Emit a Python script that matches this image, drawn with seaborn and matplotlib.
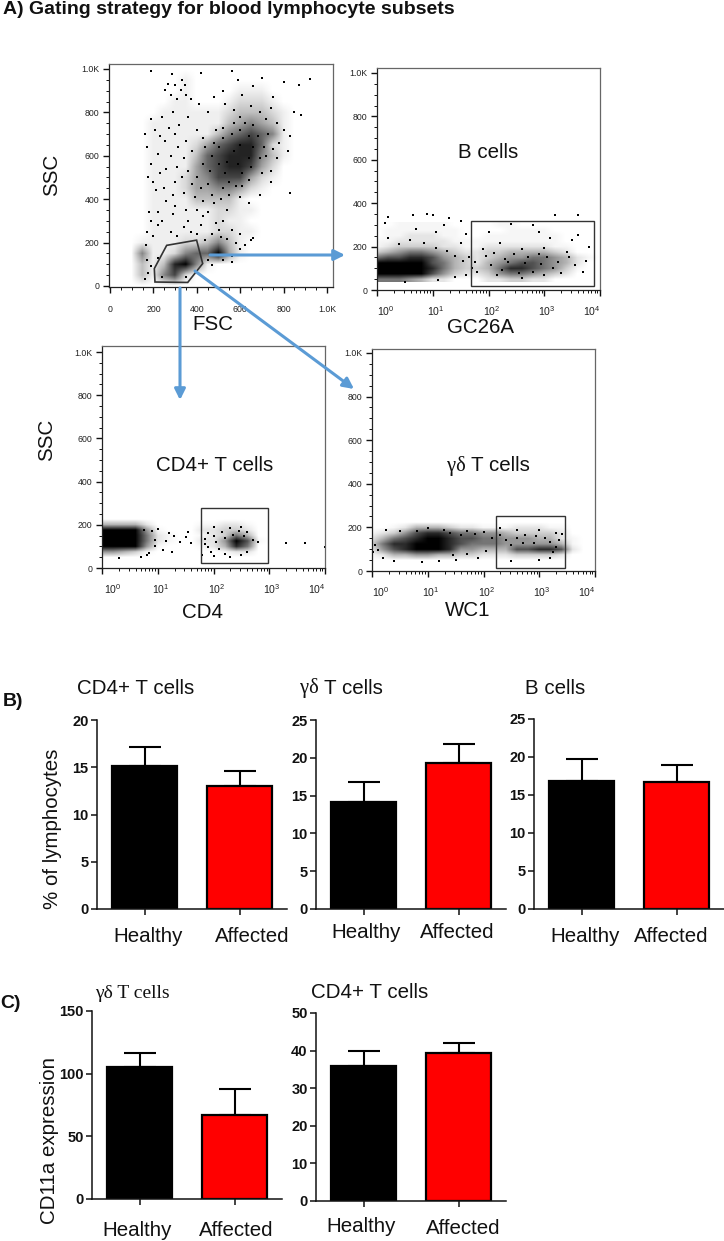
# gating figure: four flow cytometry dot plots and five bar charts
# the dot clouds are hand-read from the picture: a coarse density grid per plot (0-9)
# plus a list of individual dots that could be made out

import matplotlib
matplotlib.use("Agg")
import matplotlib.pyplot as plt
import numpy as np
import pandas as pd
import seaborn as sns

W, H = 724, 1241

# FSC / SSC plot, columns FSC 100..900 step 50, rows SSC 1000..0 step 50
fsc_density = [
    "00000000000000000",
    "00000100000000000",
    "00000100001110000",
    "00001100012221000",
    "00011111123332100",
    "00111111134543100",
    "00111111356765100",
    "00111124678862100",
    "00111136788853100",
    "00111146788742000",
    "00111245777421000",
    "00111244554210000",
    "00111133331000000",
    "00111111221100000",
    "00111111211000000",
    "00111111221100000",
    "01111223531000000",
    "05112566941000000",
    "03138951000000000",
    "03157200000000000",
    "00000000000000000",
]
fsc_dots = [
    (190, 990), (285, 975), (265, 930), (330, 950), (345, 925), (255, 905), (420, 980), (560, 990),
    (590, 950), (700, 960), (800, 940), (870, 925), (920, 955), (660, 920), (520, 900), (610, 880),
    (750, 870), (850, 800), (880, 790), (800, 720), (830, 690), (780, 660), (820, 620), (770, 590),
    (740, 530), (830, 430), (740, 480), (690, 420), (640, 380), (700, 520), (350, 880), (310, 860),
    (290, 800), (240, 780), (190, 770), (205, 720), (160, 700), (255, 670), (170, 640), (315, 640),
    (280, 600), (190, 560), (230, 520), (175, 500), (300, 480), (210, 440), (340, 430), (260, 390),
    (180, 340), (290, 330), (360, 300), (430, 320), (520, 300), (560, 260), (600, 240), (650, 210),
    (660, 220), (540, 350), (480, 380), (420, 280), (220, 280), (170, 250), (310, 230), (375, 250),
    (165, 190), (170, 120), (175, 60), (160, 30), (220, 130), (190, 90), (240, 40), (350, 40),
    (450, 120), (470, 95), (560, 140), (600, 170), (540, 215), (470, 240), (500, 260), (440, 210),
    (500, 640), (560, 700), (620, 750), (640, 590), (530, 520), (470, 600), (610, 520), (570, 620),
    (540, 570), (600, 650), (430, 560), (400, 500), (680, 690), (710, 640), (450, 470), (520, 450),
    (580, 460), (640, 490), (500, 560), (590, 560), (660, 640), (420, 450), (380, 470), (730, 700),
    (300, 925), (325, 905), (280, 880), (375, 860), (410, 840), (450, 800), (480, 870), (530, 840),
    (570, 810), (600, 780), (650, 830), (690, 800), (720, 770), (740, 820), (770, 750), (360, 780),
    (320, 740), (270, 730), (230, 690), (300, 700), (350, 670), (400, 720), (430, 680), (380, 620),
    (340, 590), (310, 550), (260, 540), (220, 610), (200, 480), (250, 450), (290, 420), (330, 500),
    (360, 530), (390, 410), (430, 390), (470, 420), (510, 400), (550, 420), (600, 410), (300, 370),
    (350, 350), (400, 350), (450, 340), (490, 290), (220, 340), (240, 300), (190, 300), (200, 230),
    (280, 250), (340, 270), (400, 240), (510, 225), (580, 200), (620, 190), (560, 110), (520, 120),
    (480, 660), (520, 680), (440, 640), (460, 530), (550, 480), (610, 460), (650, 550), (690, 590),
    (720, 600), (600, 720), (660, 740), (640, 690), (570, 750), (520, 730), (490, 720), (750, 630),
]
fsc_gate = [(204, 80), (261, 187), (399, 211), (427, 103), (358, 16), (207, 18)]

# the three gated plots, columns log10 0..4 step 0.2, rows SSC 300..50 step 25
gc26a_density = [
    "001111100001100000000",
    "011111110000111100000",
    "011222110011111110000",
    "112222211111111110000",
    "123333221122222211000",
    "345665432233444432000",
    "677887543234556654210",
    "999997643245677654200",
    "999998643346887653100",
    "999997532235665432000",
    "666542200022332200000",
]
gc26a_dots = [
    (0.2, 335), (0.15, 310), (0.65, 345), (0.9, 350), (1.0, 345), (1.3, 330), (1.5, 320), (1.2, 300),
    (0.7, 280), (1.05, 265), (1.6, 260), (0.2, 240), (1.5, 215), (2.4, 305), (2.8, 300), (3.2, 345),
    (3.6, 345), (2.0, 265), (2.9, 265), (3.6, 255), (3.1, 240), (3.5, 230), (3.8, 200), (3.4, 175),
    (1.75, 130), (1.9, 190), (2.2, 215), (2.6, 190), (3.0, 195), (1.8, 85), (2.15, 70), (2.6, 55),
    (3.0, 70), (3.3, 80), (3.7, 85), (1.6, 70), (1.4, 60), (0.5, 35), (1.1, 45),
    (0.4, 210), (0.6, 230), (0.85, 215), (1.05, 195), (1.25, 180), (1.4, 155), (1.55, 135), (1.65, 150),
    (1.7, 100), (1.95, 155), (2.1, 170), (2.3, 145), (2.45, 165), (2.7, 150), (2.9, 165), (3.05, 150),
    (3.25, 130), (3.45, 150), (3.55, 115), (3.75, 135), (2.05, 115), (2.25, 90), (2.55, 80), (2.8, 85),
    (3.15, 100), (2.35, 130), (2.65, 125), (2.95, 120),
]
gc26a_gate = (1.69, 20, 3.885, 317)

cd4_density = [
    "000000000000000000000",
    "000000000000000000000",
    "000000000000000000000",
    "000000000000000000000",
    "444420000112210000000",
    "999951000223320000000",
    "999962100123640000000",
    "999962100225971000000",
    "999951000124860000000",
    "554310000001220000000",
    "000000000000000000000",
]
cd4_dots = [
    (1.0, 180), (1.2, 160), (1.3, 150), (1.5, 145), (1.55, 165), (1.15, 125), (1.4, 120), (1.6, 115),
    (1.1, 85), (1.25, 75), (1.8, 60), (1.85, 110), (1.85, 135), (1.9, 160), (2.0, 150), (1.95, 75),
    (2.0, 190), (2.3, 185), (2.5, 190), (2.6, 165), (2.7, 130), (2.8, 120), (2.0, 55), (2.3, 50),
    (3.3, 115), (3.65, 115), (4.0, 95), (0.9, 170), (0.85, 70), (0.8, 60),
    (1.9, 95), (2.05, 120), (2.1, 90), (2.15, 165), (2.2, 140), (2.35, 155), (2.45, 170), (2.55, 150),
    (2.6, 75), (2.5, 60), (2.2, 65), (0.95, 130), (0.95, 100), (0.75, 175), (0.7, 50), (0.3, 45),
]
cd4_gate = (1.78, 22, 2.97, 279)

wc1_density = [
    "000000000000000000000",
    "000000000000000000000",
    "000000000000000000000",
    "000000000000000000000",
    "001244432211122211000",
    "123578876655433332000",
    "246789987766555442100",
    "368899987666555554100",
    "257899985544477887200",
    "124455443322233332000",
    "000000000000000000000",
]
wc1_dots = [
    (0.25, 190), (0.5, 185), (0.8, 185), (1.0, 195), (1.3, 190), (1.7, 185), (2.0, 180), (2.3, 195),
    (2.6, 190), (3.0, 190), (3.3, 175), (3.4, 170), (3.1, 150), (3.35, 140), (3.3, 110), (2.3, 165),
    (2.6, 150), (2.9, 130), (2.5, 120), (2.75, 165), (0.05, 120), (0.1, 95), (0.02, 85), (0.2, 60),
    (0.4, 45), (0.9, 40), (1.2, 45), (1.5, 50), (1.9, 60), (2.5, 45), (3.0, 50), (3.2, 60),
    (1.4, 175), (1.6, 165), (1.85, 170), (2.15, 150), (2.4, 140), (2.7, 130), (2.95, 160), (3.2, 135),
    (1.45, 75), (1.7, 80), (2.05, 90), (3.25, 85),
]
wc1_gate = (2.23, 12, 3.47, 253)

# bar charts
groups = ["Healthy", "Affected"]
cd4_pct = [15.1, 13.0]
cd4_pct_top = [17.1, 14.6]
gd_pct = [14.2, 19.3]
gd_pct_top = [16.8, 21.8]
b_pct = [16.8, 16.7]
b_pct_top = [19.8, 19.0]
gd_cd11a = [105, 67]
gd_cd11a_top = [116.5, 88]
cd4_cd11a = [36, 39.3]
cd4_cd11a_top = [40, 42]

SSC_TICKS = [0, 200, 400, 600, 800, 1000]
SSC_LABELS = ["0", "200", "400", "600", "800", "1.0K"]
BLUE = "#5b9bd5"
SANS = "Liberation Sans"
SERIF = "Liberation Serif"

sns.set_theme(style="ticks")
plt.rcParams["font.family"] = [SANS, "DejaVu Sans"]
plt.rcParams["mathtext.fontset"] = "custom"
plt.rcParams["mathtext.rm"] = SANS

fig = plt.figure(figsize=(W / 100, H / 100), dpi=100, facecolor="white")


def box(left, top, right, bottom):
    return fig.add_axes([left / W, 1 - bottom / H, (right - left) / W, (bottom - top) / H])


def label(x, y, s, size=14.8, **kw):
    kw.setdefault("ha", "center")
    kw.setdefault("va", "center")
    return fig.text(x / W, 1 - y / H, s, fontsize=size, color="#111111", **kw)


def gd_label(right, y, size=14.8):
    # the greek letters are set in a serif face, the rest in sans
    label(right, y, "γδ", size=size, family=SERIF, ha="right")
    label(right + 5, y, "T cells", size=size, ha="left")


def density_layer(ax, rows, extent, gamma=1.5):
    grid = np.array([[int(c) for c in row] for row in rows], dtype=float)
    rgba = np.zeros(grid.shape + (4,))
    rgba[..., 3] = (grid / 9) ** gamma
    ax.imshow(rgba, extent=extent, aspect="auto", interpolation="bilinear", origin="upper", zorder=1)


def dots_layer(ax, dots):
    df = pd.DataFrame(dots, columns=["x", "y"])
    sns.scatterplot(data=df, x="x", y="y", ax=ax, s=0.55, color="black", marker="s",
                    linewidth=0, zorder=2, legend=False)
    ax.set(xlabel="", ylabel="")


def style_flow(ax):
    for side, sp in ax.spines.items():
        sp.set_linewidth(0.9)
        sp.set_color("#222222" if side in ("left", "bottom") else "#666666")
    ax.set_yticks(SSC_TICKS, SSC_LABELS)
    ax.set_yticks(np.arange(0, 1001, 50), minor=True)
    ax.tick_params(axis="both", which="major", length=4, width=1, labelsize=6.3, pad=3,
                   labelcolor="#222222", color="#111111")
    ax.tick_params(axis="both", which="minor", length=2.2, width=0.7, color="#111111")


def log_plot(rect, rows, dots, gate, ylim, offsets):
    ax = box(*rect)
    density_layer(ax, rows, (-0.1, 4.1, 37.5, 312.5))
    dots_layer(ax, dots)
    ax.set_xlim(0, 4)
    ax.set_ylim(*ylim)
    style_flow(ax)
    ax.set_xticks(range(5), [""] * 5)
    minor = [d + np.log10(m) for d in range(4) for m in range(2, 10)]
    ax.set_xticks(minor, minor=True)
    for d, off in zip(range(5), offsets):
        ax.annotate(f"$\\mathregular{{10^{{{d}}}}}$", xy=(d, 0), xycoords=ax.get_xaxis_transform(),
                    xytext=(off * 0.72, -15), textcoords="offset points", ha="center", va="center",
                    fontsize=7.6, color="#222222", annotation_clip=False)
    x0, y0, x1, y1 = gate
    ax.add_patch(plt.Rectangle((x0, y0), x1 - x0, y1 - y0, fill=False, ec="#333333", lw=1.0, zorder=3))
    return ax


# dot plots
ax = box(109, 64, 333, 287)
density_layer(ax, fsc_density, (75, 925, -25, 1025), gamma=1.25)
dots_layer(ax, fsc_dots)
ax.set_xlim(-5, 1028)
ax.set_ylim(-5, 1023)
style_flow(ax)
ax.set_xticks(SSC_TICKS, SSC_LABELS)
ax.set_xticks(np.arange(0, 1001, 50), minor=True)
ax.tick_params(axis="x", which="major", pad=9)
ax.add_patch(plt.Polygon(fsc_gate, closed=True, fill=False, ec="#333333", lw=1.2, zorder=3))

log_plot((377, 68, 600, 290), gc26a_density, gc26a_dots, gc26a_gate, (0, 1023), (9, 3, 3, 3, -8))
log_plot((102, 346, 325, 568), cd4_density, cd4_dots, cd4_gate, (0, 1028), (11, 3, 3, 3, -8))
log_plot((372, 349, 595, 571), wc1_density, wc1_dots, wc1_gate, (0, 1018), (9, 3, 3, 3, -8))


# blue arrows across the dot plots
def arrow(start, end):
    fig.add_artist(matplotlib.patches.FancyArrowPatch(
        (start[0] / W, 1 - start[1] / H), (end[0] / W, 1 - end[1] / H), transform=fig.transFigure,
        arrowstyle="-|>", mutation_scale=16, lw=2.2, color=BLUE, shrinkA=0, shrinkB=0, zorder=5))


arrow((210, 255), (345, 255))
arrow((180, 288), (180, 400))
arrow((195, 271), (354, 389))

# texts around the dot plots
label(3, 10, "A) Gating strategy for blood lymphocyte subsets", size=14, weight="bold", ha="left")
label(52, 175, "SSC", rotation=90)
label(47, 440, "SSC", rotation=90)
label(213, 325, "FSC")
label(480, 328, "GC26A")
label(203, 613, "CD4")
label(468, 611, "WC1")
label(488, 153, "B cells")
label(215, 466, "CD4+ T cells")
gd_label(466, 466)


# bars
def bar_plot(rect, values, tops, ymax, step):
    ax = box(*rect)
    df = pd.DataFrame({"group": groups, "value": values})
    sns.barplot(data=df, x="group", y="value", hue="group", ax=ax, dodge=False, width=0.68,
                palette=["black", "#ff0000"], saturation=1, edgecolor="black", linewidth=1.6,
                errorbar=None, legend=False, zorder=2)
    errs = np.array(tops) - np.array(values)
    ax.errorbar(range(2), values, yerr=[np.zeros(2), errs], fmt="none", ecolor="black",
                elinewidth=1.5, capsize=11.5, capthick=1.5, zorder=1)
    ax.set_xlim(-0.5, 1.5)
    ax.set_ylim(0, ymax)
    ax.set_yticks(np.arange(0, ymax + 1, step))
    ax.set_xticks([0, 1], ["", ""])
    ax.set(xlabel="", ylabel="")
    ax.patch.set_alpha(0)
    for sp in ("top", "right"):
        ax.spines[sp].set_visible(False)
    for sp in ("left", "bottom"):
        ax.spines[sp].set_linewidth(1.1)
        ax.spines[sp].set_color("#111111")
    ax.tick_params(axis="both", length=4.5, width=1.1, color="#111111")
    ax.tick_params(axis="y", labelsize=10.5, pad=1.5, labelcolor="#111111")
    for t in ax.get_yticklabels():
        t.set_fontweight("bold")
    return ax


bar_plot((97, 720, 287, 909), cd4_pct, cd4_pct_top, 20, 5)
bar_plot((316, 720, 506, 909), gd_pct, gd_pct_top, 25, 5)
bar_plot((534, 719, 724, 909), b_pct, b_pct_top, 25, 5)
bar_plot((92, 1011, 282, 1199), gd_cd11a, gd_cd11a_top, 150, 50)
bar_plot((316, 1013, 506, 1201), cd4_cd11a, cd4_cd11a_top, 50, 10)

label(3, 702, "B)", size=14, weight="bold", ha="left")
label(0, 1004, "C)", size=14, weight="bold", ha="left")
label(53, 829, "% of lymphocytes", rotation=90)
label(50, 1140, "CD11a expression", rotation=90)
label(136, 688, "CD4+ T cells")
gd_label(319, 688)
label(555, 688, "B cells")
label(132, 993, "γδ T cells", size=14, family=SERIF)
label(370, 992, "CD4+ T cells")

for x, y, s in [
    (148, 936, "Healthy"), (252, 936, "Affected"), (366, 932, "Healthy"), (457, 932, "Affected"),
    (585, 936, "Healthy"), (671, 936, "Affected"), (137, 1230, "Healthy"), (236, 1230, "Affected"),
    (361, 1227, "Healthy"), (463, 1229, "Affected"),
]:
    label(x, y, s)

fig.savefig("out.png", dpi=100)
